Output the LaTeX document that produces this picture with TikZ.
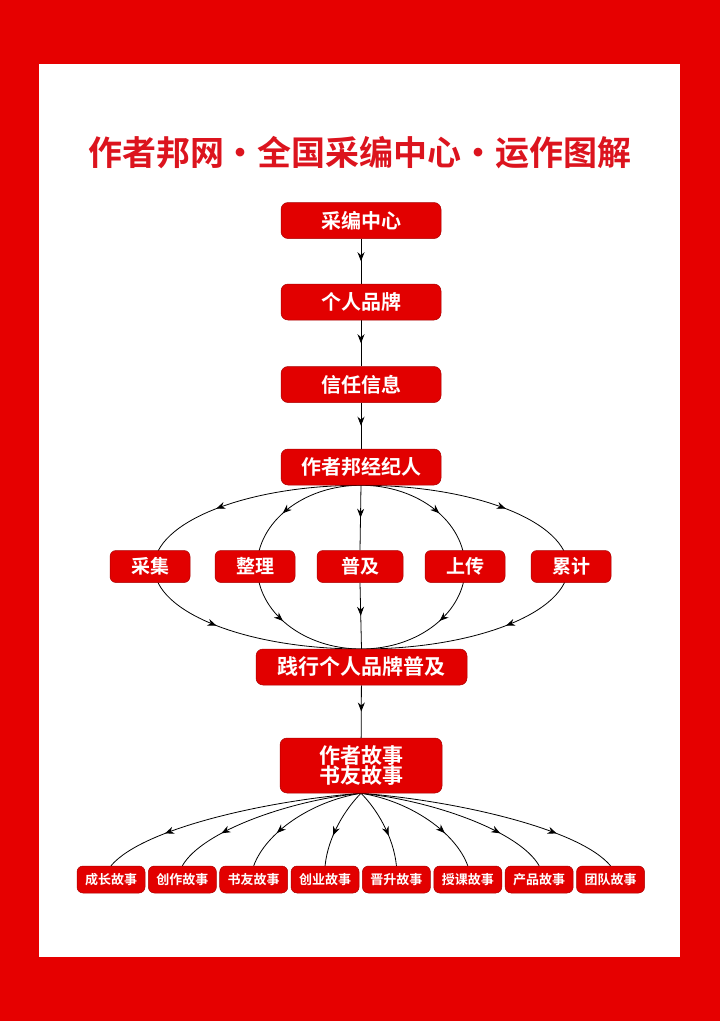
\documentclass[tikz,border=0pt]{standalone}
\usepackage{fontspec}
\setmainfont{Noto Sans CJK SC}[BoldFont={Noto Sans CJK SC Bold}]
\usetikzlibrary{arrows.meta,decorations.markings,calc}
\definecolor{pagered}{RGB}{230,0,0}
\definecolor{boxred}{RGB}{226,0,0}
\definecolor{boxdark}{RGB}{170,0,0}
\definecolor{titlered}{RGB}{220,20,30}
\pgfdeclarelayer{bg}
\pgfdeclarelayer{edges}
\pgfsetlayers{bg,edges,main}
\tikzset{
  basebox/.style={fill=boxred,draw=boxdark,line width=0.5pt,text=white,inner sep=0pt,align=center},
  mainbox/.style={basebox,rounded corners=7pt,minimum width=160pt,minimum height=36pt,font=\bfseries\fontsize{20}{22}\selectfont},
  rowbox/.style={basebox,rounded corners=6pt,minimum width=80pt,minimum height=32pt,font=\bfseries\fontsize{19}{21}\selectfont},
  leafbox/.style={basebox,rounded corners=6pt,minimum width=68pt,minimum height=27pt,font=\bfseries\fontsize{13}{14}\selectfont},
  titletext/.style={text=titlered,font=\bfseries\fontsize{34}{40}\selectfont,inner sep=0pt},
  flow/.style={draw=black,line width=0.8pt,postaction={decorate},
    decoration={markings,mark=at position #1 with {\arrow{Stealth[length=9pt,width=7pt]}}}},
  flow/.default=0.5
}
\begin{document}
\begin{tikzpicture}[x=1pt,y=1pt]
\begin{pgfonlayer}{bg}
  \fill[pagered] (0,0) rectangle (720,-1021);
  \fill[white] (39,-64) rectangle (680,-957);
\end{pgfonlayer}
\useasboundingbox (0,0) rectangle (720,-1021);

\node[titletext] (title) at (360,-153) {作者邦网·全国采编中心·运作图解};

\node[mainbox] (center) at (361,-220.5) {采编中心};
\node[mainbox] (brand) at (361,-302) {个人品牌};
\node[mainbox] (trust) at (361,-384.5) {信任信息};
\node[mainbox] (agent) at (361,-467) {作者邦经纪人};

\node[rowbox] (collect) at (150,-566.5) {采集};
\node[rowbox] (sort) at (255,-566.5) {整理};
\node[rowbox,minimum width=86pt] (popular) at (360,-566.5) {普及};
\node[rowbox] (upload) at (465,-566.5) {上传};
\node[rowbox] (accum) at (571,-566.5) {累计};

\node[mainbox,minimum width=211pt,font=\bfseries\fontsize{21}{23}\selectfont] (practice) at (361.5,-667) {践行个人品牌普及};
\node[mainbox,minimum width=162pt,minimum height=55pt,font=\bfseries\fontsize{21}{20}\selectfont] (story) at (361,-765.5) {作者故事\\书友故事};

\foreach \name/\txt [count=\i from 0] in {l1/成长故事,l2/创作故事,l3/书友故事,l4/创业故事,l5/晋升故事,l6/授课故事,l7/产品故事,l8/团队故事}
  \node[leafbox] (\name) at ({111+71.36*\i},-879.5) {\txt};

\begin{pgfonlayer}{edges}
  \draw[flow] (center) -- (brand);
  \draw[flow] (brand) -- (trust);
  \draw[flow] (trust) -- (agent);
  \coordinate (ec) at ($(agent.south)!0.5!(practice.north)$);
  % outer ellipse
  \draw[flow=0.62] (agent.south) arc[start angle=90,end angle=180,x radius=207,y radius=82];
  \draw[flow=0.62] (agent.south) arc[start angle=90,end angle=0,x radius=207,y radius=82];
  \draw[flow=0.38] ($(ec)+(-207,0)$) arc[start angle=180,end angle=270,x radius=207,y radius=82];
  \draw[flow=0.38] ($(ec)+(207,0)$) arc[start angle=0,end angle=-90,x radius=207,y radius=82];
  % inner ellipse
  \draw[flow=0.58] (agent.south) arc[start angle=90,end angle=180,x radius=104,y radius=82];
  \draw[flow=0.58] (agent.south) arc[start angle=90,end angle=0,x radius=104,y radius=82];
  \draw[flow=0.42] ($(ec)+(-104,0)$) arc[start angle=180,end angle=270,x radius=104,y radius=82];
  \draw[flow=0.42] ($(ec)+(104,0)$) arc[start angle=0,end angle=-90,x radius=104,y radius=82];
  % middle
  \draw[flow] (agent.south) -- (popular.north);
  \draw[flow] (popular.south) -- (practice.north);
  \draw[flow] (practice) -- (story);
  % fan
  \draw[flow=0.76] (story.south) .. controls +(-91,-7) and +(32,38) .. (l1.north);
  \draw[flow=0.74] (story.south) .. controls +(-70,-7) and +(20,35) .. (l2.north);
  \draw[flow=0.7] (story.south) .. controls +(-50,-8) and +(12,33) .. (l3.north);
  \draw[flow=0.62] (story.south) .. controls +(-15,-15) and +(3,30) .. (l4.north);
  \draw[flow=0.62] (story.south) .. controls +(15,-15) and +(-3,30) .. (l5.north);
  \draw[flow=0.7] (story.south) .. controls +(50,-8) and +(-12,33) .. (l6.north);
  \draw[flow=0.74] (story.south) .. controls +(70,-7) and +(-20,35) .. (l7.north);
  \draw[flow=0.76] (story.south) .. controls +(91,-7) and +(-32,38) .. (l8.north);
\end{pgfonlayer}
\end{tikzpicture}
\end{document}
